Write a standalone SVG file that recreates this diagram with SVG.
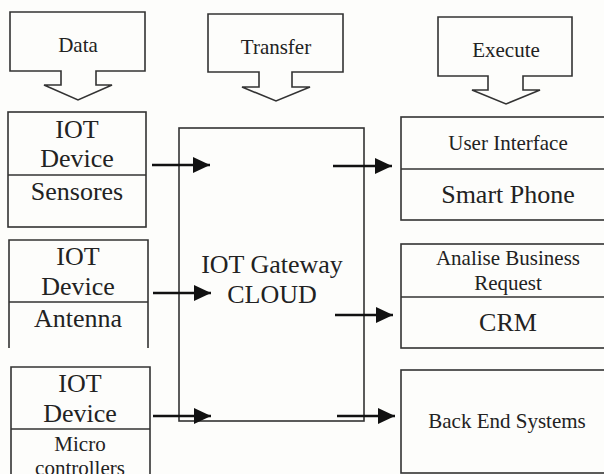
<svg xmlns="http://www.w3.org/2000/svg" width="604" height="474" viewBox="0 0 604 474">
<defs>
<style>
.bg{fill:#fdfdfb}
.shape{fill:none;stroke:#333;stroke-width:1.6}
text{font-family:'Liberation Serif','Times New Roman',Times,serif;fill:#222;text-anchor:middle}
.s21{font-size:21px}
.s26{font-size:26px}
.conn{stroke:#111;stroke-width:2.6;fill:none;marker-end:url(#ah)}
</style>
<marker id="ah" markerUnits="userSpaceOnUse" markerWidth="18" markerHeight="18" refX="17" refY="8" orient="auto">
<path d="M0,0 L17,8 L0,16 Z" fill="#111"/>
</marker>
</defs>
<rect class="bg" x="0" y="0" width="604" height="474"/>

<g id="data" font-family="Liberation Serif">
<path class="shape" d="M10,12 H145 V71 H96 V85 H112 L78,100 L44,85 H61 V71 H10 Z"/>
<text class="s21" x="78" y="52">Data</text>
</g>
<g id="transfer" font-family="Liberation Serif">
<path class="shape" d="M208,14 H343 V72 H292 V87 H310 L276,101 L242,87 H259 V72 H208 Z"/>
<text class="s21" x="276" y="54">Transfer</text>
</g>
<g id="execute" font-family="Liberation Serif">
<path class="shape" d="M438,17 H572 V76 H523 V90 H540 L506,104 L472,90 H488 V76 H438 Z"/>
<text class="s21" x="506" y="57">Execute</text>
</g>

<g id="device-sensores" font-family="Liberation Serif">
<rect class="shape" x="8" y="112" width="138" height="115"/>
<line class="shape" x1="8" y1="175" x2="146" y2="175"/>
<text class="s26" x="77" y="138">IOT</text>
<text class="s26" x="77" y="167">Device</text>
<text class="s26" x="77" y="200">Sensores</text>
</g>
<g id="device-antenna" font-family="Liberation Serif">
<path class="shape" d="M9,348 V240 H148 V348 M9,302 H148"/>
<text class="s26" x="78" y="265">IOT</text>
<text class="s26" x="78" y="295">Device</text>
<text class="s26" x="78" y="327">Antenna</text>
</g>
<g id="device-micro" font-family="Liberation Serif">
<path class="shape" d="M11,476 V367 H150 V476 M11,429 H150"/>
<text class="s26" x="80" y="392">IOT</text>
<text class="s26" x="80" y="422">Device</text>
<text class="s21" x="80" y="451">Micro</text>
<text class="s21" x="80" y="475">controllers</text>
</g>

<g id="gateway" font-family="Liberation Serif">
<rect class="shape" x="179" y="128" width="185" height="293"/>
<text class="s26" x="272" y="273">IOT Gateway</text>
<text class="s26" x="272" y="303">CLOUD</text>
</g>

<g id="user-interface" font-family="Liberation Serif">
<rect class="shape" x="401" y="117" width="215" height="103"/>
<line class="shape" x1="401" y1="169" x2="616" y2="169"/>
<text class="s21" x="508" y="150">User Interface</text>
<text class="s26" x="508" y="203">Smart Phone</text>
</g>
<g id="crm" font-family="Liberation Serif">
<rect class="shape" x="401" y="244" width="215" height="104"/>
<line class="shape" x1="401" y1="297" x2="616" y2="297"/>
<text class="s21" x="508" y="265">Analise Business</text>
<text class="s21" x="508" y="290">Request</text>
<text class="s26" x="508" y="331">CRM</text>
</g>
<g id="backend" font-family="Liberation Serif">
<rect class="shape" x="401" y="370" width="215" height="103"/>
<text class="s21" x="507" y="428">Back End Systems</text>
</g>

<g id="connectors">
<line class="conn" x1="152" y1="165" x2="210" y2="165"/>
<line class="conn" x1="153" y1="293" x2="211" y2="293"/>
<line class="conn" x1="153" y1="416" x2="211" y2="416"/>
<line class="conn" x1="333" y1="166" x2="392" y2="166"/>
<line class="conn" x1="335" y1="315" x2="393" y2="315"/>
<line class="conn" x1="337" y1="416" x2="395" y2="416"/>
</g>
</svg>
